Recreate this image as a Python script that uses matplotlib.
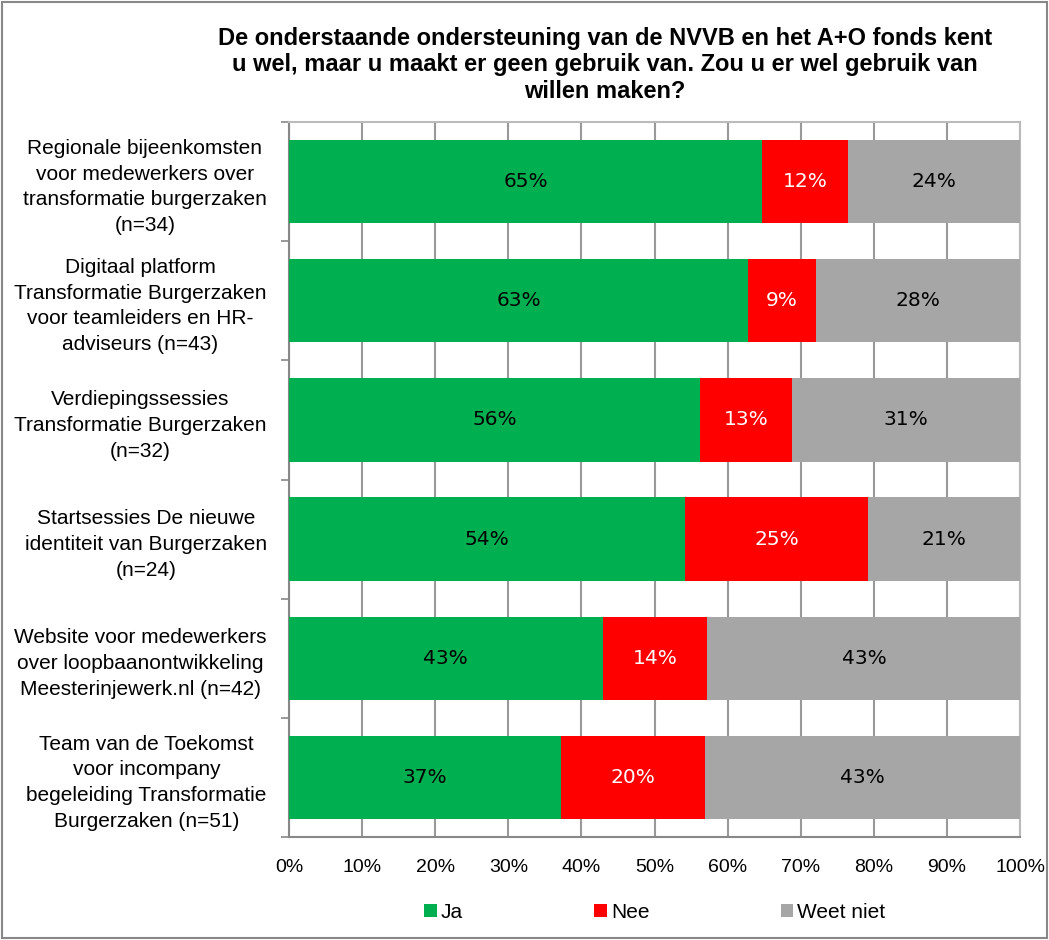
import matplotlib
matplotlib.use("Agg")
import matplotlib.pyplot as plt
import numpy as np

plt.rcParams['font.family'] = ['Liberation Sans', 'DejaVu Sans']

categories = [
    "Regionale bijeenkomsten\nvoor medewerkers over\ntransformatie burgerzaken\n(n=34)",
    "Digitaal platform\nTransformatie Burgerzaken\nvoor teamleiders en HR-\nadviseurs (n=43)",
    "Verdiepingssessies\nTransformatie Burgerzaken\n(n=32)",
    "Startsessies De nieuwe\nidentiteit van Burgerzaken\n(n=24)",
    "Website voor medewerkers\nover loopbaanontwikkeling\nMeesterinjewerk.nl (n=42)",
    "Team van de Toekomst\nvoor incompany\nbegeleiding Transformatie\nBurgerzaken (n=51)",
]
ja = [64.7, 62.8, 56.25, 54.2, 42.9, 37.25]
nee = [11.8, 9.3, 12.5, 25.0, 14.3, 19.6]
weet_niet = [23.5, 27.9, 31.25, 20.8, 42.9, 43.1]
series_names = ["Ja", "Nee", "Weet niet"]
colors = ["#00B050", "#FF0000", "#A6A6A6"]
text_colors = ["black", "white", "black"]

fig = plt.figure(figsize=(10.49, 9.40), dpi=100)
ax = fig.add_axes([289/1049, 1-837/940, (1020-289)/1049, (837-122)/940])

y = np.arange(len(categories))
left = np.zeros(len(categories))
for vals, name, col, tc in zip([ja, nee, weet_niet], series_names, colors, text_colors):
    vals = np.array(vals)
    ax.barh(y, vals, left=left, height=0.7, color=col, label=name, zorder=3)
    for yi, l, v in zip(y, left, vals):
        ax.text(l + v/2, yi, f"{int(np.floor(v + 0.5))}%", ha='center', va='center',
                fontsize=14.5, color=tc, family=['DejaVu Sans'], zorder=4)
    left = left + vals

ax.set_xlim(0, 100)
ax.set_ylim(len(categories) - 0.5, -0.5)
ax.set_xticks(np.arange(0, 101, 10))
ax.set_xticklabels([f"{v}%" for v in range(0, 101, 10)], fontsize=14)
ax.xaxis.grid(True, color="#999999", linewidth=1.5, zorder=0)
ax.set_axisbelow(True)
ax.tick_params(axis='x', length=0, pad=16)

ax.set_yticks(y)
ax.set_yticklabels(categories, fontsize=15, linespacing=1.45)
for lbl in ax.get_yticklabels():
    lbl.set_multialignment('center')
ax.tick_params(axis='y', length=0, pad=16)
ax.set_yticks(np.arange(-0.5, len(categories) + 0.5, 1), minor=True)
ax.tick_params(axis='y', which='minor', length=6, color="#888888", width=1.2)

for s in ['top', 'right']:
    ax.spines[s].set_color("#BBBBBB")
    ax.spines[s].set_linewidth(1.5)
for s in ['left', 'bottom']:
    ax.spines[s].set_color("#888888")
    ax.spines[s].set_linewidth(1.5)

fig.text(605/1049, 1-65/940,
         "De onderstaande ondersteuning van de NVVB en het A+O fonds kent\n"
         "u wel, maar u maakt er geen gebruik van. Zou u er wel gebruik van\n"
         "willen maken?",
         ha='center', va='center', fontsize=17, fontweight='bold', linespacing=1.22)

handles, labels = ax.get_legend_handles_labels()
fig.legend(handles, labels, loc='center', bbox_to_anchor=(655/1049, 1-912/940),
           ncol=3, frameon=False, fontsize=15, handlelength=0.6, handleheight=0.6,
           handletextpad=0.2, columnspacing=6.3)

fig.patches.append(plt.Rectangle((0.002, 0.002), 0.996, 0.996, transform=fig.transFigure,
                                 fill=False, edgecolor="#888888", linewidth=1.5))

fig.savefig("out.png", dpi=100)
